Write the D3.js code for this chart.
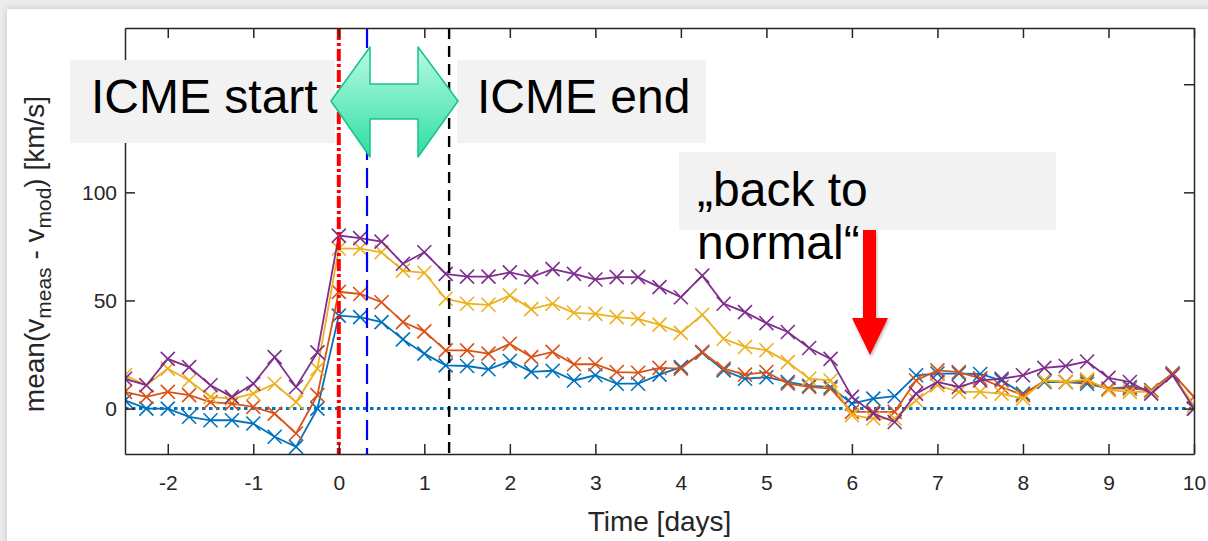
<!DOCTYPE html>
<html>
<head>
<meta charset="utf-8">
<script src="https://cdn.jsdelivr.net/npm/d3@7"></script>
<style>
    body { margin: 0; background: #ececec; }
    svg { display: block; font-family: "Liberation Sans", Arial, sans-serif; }
</style>
</head>
<body>
<svg id="chart" width="1208" height="541"></svg>
<script>
// time grid (days since ICME start), 6 h steps
var times = [-2.5, -2.25, -2, -1.75, -1.5, -1.25, -1, -0.75, -0.5, -0.25,
    0, 0.25, 0.5, 0.75, 1, 1.25, 1.5, 1.75, 2, 2.25,
    2.5, 2.75, 3, 3.25, 3.5, 3.75, 4, 4.25, 4.5, 4.75,
    5, 5.25, 5.5, 5.75, 6, 6.25, 6.5, 6.75, 7, 7.25,
    7.5, 7.75, 8, 8.25, 8.5, 8.75, 9, 9.25, 9.5, 9.75, 10];

var blue_vals = [3.8, 0, 0, -3.8, -5.4, -5.4, -6.9, -13, -17.7, 0,
    43, 42.3, 40, 32, 25.4, 20, 19.7, 18.2, 22, 17,
    17.5, 13, 15.4, 11.5, 11.5, 15.7, 19.2, 25.8, 17.7, 13.8,
    14.5, 12.3, 10.5, 10, 2.3, 4.6, 5.7, 15.4, 16.2, 16.2,
    16, 13, 6.9, 12.3, 12.3, 11.5, 9.2, 10, 8.5, 16.2, 0];

var orange_vals = [7.7, 5.4, 7.7, 6.2, 3, 2.3, 0.8, -2.3, -11.5, 6.2,
    54, 53, 49.2, 40, 35.7, 26.9, 26.9, 25.4, 30, 23.8,
    26.2, 20.5, 20.5, 16.9, 16.6, 18.8, 18.5, 26.2, 18.5, 15.7,
    16.9, 11.5, 10, 9.2, -1.5, -1.5, -1.5, 13, 17.7, 16.9,
    14, 10, 6.2, 13, 12.3, 12.6, 9.2, 9.2, 8.5, 16.2, 5.4];

var yellow_vals = [15.4, 10.8, 18.5, 13, 5.4, 4.6, 6.9, 11.5, 3, 18.5,
    74, 74, 72.3, 63.8, 62.8, 50.8, 48.5, 48, 52.3, 46,
    48.5, 44.3, 43.8, 42.3, 41.5, 38.8, 35, 43.4, 32.3, 28.5,
    27, 21.5, 13.8, 13, -3, -4.6, -4.6, 3.8, 10.8, 7.7,
    7.7, 6.9, 4.6, 13, 12.3, 13.5, 8.5, 7.7, 7.7, 15.4, 1.5];

var purple_vals = [13.8, 10.8, 23, 19.2, 10.8, 5.4, 11.5, 23.8, 10, 26,
    80, 78.8, 77.2, 67, 72.3, 62.3, 61, 61, 63, 60.8,
    64.5, 62.3, 59.7, 60.8, 60.8, 56.2, 51.5, 61.5, 48.5, 44.6,
    39.5, 35.4, 28, 23, 5.4, -2.3, -6.2, 6.9, 12.3, 10,
    13, 13.8, 15.4, 18.8, 19.7, 21.8, 14.2, 12.3, 6.9, 15.4, 0];

var series_colors = ['#0072BD', '#D95319', '#EDB120', '#7E2F8E'];

var x_ticks = [-2, -1, 0, 1, 2, 3, 4, 5, 6, 7, 8, 9, 10];
var y_ticks = [0, 50, 100, 150];

// event markers: ICME start, mid, ICME end
var event_times = [0, 0.33, 1.29];
var event_colors = ['#ff0000', '#0000ff', '#000000'];

var svg = d3.select('#chart');
// NB: "top" is taken by window.top, so prefixed names
var p_left = 125, p_right = 1194, p_top = 28, p_bottom = 454;

var x = d3.scaleLinear().domain([-2.5, 10]).range([p_left, p_right]);
var y = d3.scaleLinear().domain([-21, 176]).range([p_bottom, p_top]);

var defs = svg.append('defs');

var shadow = defs.append('filter').attr('id', 'panelshadow')
    .attr('x', '-5%').attr('y', '-5%').attr('width', '110%').attr('height', '110%');
shadow.append('feDropShadow').attr('dx', 0).attr('dy', 0)
    .attr('stdDeviation', 3).attr('flood-color', '#000').attr('flood-opacity', 0.18);

var arrowshadow = defs.append('filter').attr('id', 'arrowshadow');
arrowshadow.append('feDropShadow').attr('dx', 1).attr('dy', 2)
    .attr('stdDeviation', 1.5).attr('flood-color', '#000').attr('flood-opacity', 0.3);

var grad = defs.append('linearGradient').attr('id', 'mint')
    .attr('x1', 0).attr('y1', 0).attr('x2', 0).attr('y2', 1);
grad.append('stop').attr('offset', '0%').attr('stop-color', '#b8fae4');
grad.append('stop').attr('offset', '100%').attr('stop-color', '#2fdea4');

defs.append('clipPath').attr('id', 'plotclip')
    .append('rect').attr('x', p_left).attr('y', p_top)
    .attr('width', p_right - p_left).attr('height', p_bottom - p_top);

// slide background
svg.append('rect').attr('width', 1208).attr('height', 541).attr('fill', '#ececec');
svg.append('rect').attr('x', 7).attr('y', 9).attr('width', 1210).attr('height', 540)
    .attr('fill', '#fff').attr('filter', 'url(#panelshadow)');

var plot = svg.append('g').attr('clip-path', 'url(#plotclip)');

// zero reference line
plot.append('line')
    .attr('x1', x(-2.5)).attr('x2', x(10))
    .attr('y1', y(0)).attr('y2', y(0))
    .attr('stroke', '#0072BD').attr('stroke-width', 3)
    .attr('stroke-dasharray', '3.5,3.5');

var line = d3.line()
    .x(function(d) { return x(d[0]); })
    .y(function(d) { return y(d[1]); });

var all_series = [blue_vals, orange_vals, yellow_vals, purple_vals];
var ms = 7;

all_series.forEach(function(vals, i) {
    var pts = times.map(function(t, j) { return [t, vals[j]]; });
    var g = plot.append('g');
    g.append('path').datum(pts)
        .attr('d', line)
        .attr('fill', 'none')
        .attr('stroke', series_colors[i])
        .attr('stroke-width', 1.8);
    g.selectAll('path.mk').data(pts).enter().append('path')
        .attr('class', 'mk')
        .attr('d', function(d) {
            var cx = x(d[0]), cy = y(d[1]);
            return 'M' + (cx - ms) + ',' + (cy - ms) + 'L' + (cx + ms) + ',' + (cy + ms) +
                'M' + (cx - ms) + ',' + (cy + ms) + 'L' + (cx + ms) + ',' + (cy - ms);
        })
        .attr('stroke', series_colors[i])
        .attr('stroke-width', 1.6);
});

// vertical event lines
var dashes = ['12,3,3,3', '20,8', '11,7'];
var widths = [4, 2.2, 2.4];
event_times.forEach(function(t, i) {
    plot.append('line')
        .attr('x1', x(t)).attr('x2', x(t))
        .attr('y1', p_top).attr('y2', p_bottom)
        .attr('stroke', event_colors[i])
        .attr('stroke-width', widths[i])
        .attr('stroke-dasharray', dashes[i]);
});

// axes, matlab style box with inward ticks
var axcol = '#262626';
function style_axis(g) {
    g.attr('font-family', null);
    g.selectAll('path.domain').attr('stroke', axcol).attr('stroke-width', 1.5);
    g.selectAll('.tick line').attr('stroke', axcol).attr('stroke-width', 1.5);
    g.selectAll('.tick text').attr('fill', axcol).attr('font-size', 21);
}
var plain = function(d) { return String(d); };
// the 150 label sits under the "ICME start" box anyway
var ylabel_fmt = function(d) { return d === 150 ? '' : String(d); };

svg.append('g').attr('transform', 'translate(0,' + p_bottom + ')')
    .call(d3.axisBottom(x).tickValues(x_ticks).tickSize(-10).tickSizeOuter(0).tickPadding(21)
        .tickFormat(plain))
    .call(style_axis);
svg.append('g').attr('transform', 'translate(0,' + p_top + ')')
    .call(d3.axisTop(x).tickValues(x_ticks).tickSize(-10).tickSizeOuter(0).tickFormat(''))
    .call(style_axis);
svg.append('g').attr('transform', 'translate(' + p_left + ',0)')
    .call(d3.axisLeft(y).tickValues(y_ticks).tickSize(-10).tickSizeOuter(0).tickPadding(8)
        .tickFormat(ylabel_fmt))
    .call(style_axis);
svg.append('g').attr('transform', 'translate(' + p_right + ',0)')
    .call(d3.axisRight(y).tickValues(y_ticks).tickSize(-10).tickSizeOuter(0).tickFormat(''))
    .call(style_axis);

svg.append('text')
    .attr('x', (p_left + p_right) / 2).attr('y', 531)
    .attr('text-anchor', 'middle')
    .attr('font-size', 28).attr('fill', axcol)
    .text('Time [days]');

var ylab = svg.append('text')
    .attr('transform', 'translate(44,254) rotate(-90)')
    .attr('text-anchor', 'middle')
    .attr('font-size', 28).attr('fill', axcol);
ylab.append('tspan').text('mean(v');
ylab.append('tspan').attr('font-size', 21).attr('dy', 7).text('meas');
ylab.append('tspan').attr('dy', -7).text(' - v');
ylab.append('tspan').attr('font-size', 21).attr('dy', 7).text('mod');
ylab.append('tspan').attr('dy', -7).text(') [km/s]');

// annotation boxes
var boxes = [
    { x: 70, y: 60, w: 265, h: 83 },
    { x: 457, y: 60, w: 249, h: 83 },
    { x: 679, y: 152, w: 377, h: 78 },
];
svg.selectAll('rect.box').data(boxes).enter().append('rect')
    .attr('class', 'box')
    .attr('x', function(d) { return d.x; })
    .attr('y', function(d) { return d.y; })
    .attr('width', function(d) { return d.w; })
    .attr('height', function(d) { return d.h; })
    .attr('fill', '#f2f2f2');

var labels = [
    { x: 91, y: 113, t: 'ICME start' },
    { x: 477, y: 113, t: 'ICME end' },
    { x: 697, y: 206, t: '\u201Eback to' },
    { x: 697, y: 259, t: 'normal\u201C' },
];
svg.selectAll('text.ann').data(labels).enter().append('text')
    .attr('class', 'ann')
    .attr('x', function(d) { return d.x; })
    .attr('y', function(d) { return d.y; })
    .attr('font-size', 48)
    .attr('fill', '#000')
    .text(function(d) { return d.t; });

// green double arrow between start and end
var ga = [[331, 101], [370, 47], [370, 84], [418, 84], [418, 47], [458, 101],
    [418, 157], [418, 119], [370, 119], [370, 157]];
svg.append('path')
    .attr('d', 'M' + ga.join('L') + 'Z')
    .attr('fill', 'url(#mint)')
    .attr('stroke', '#17c28a')
    .attr('stroke-width', 1.5)
    .attr('stroke-linejoin', 'round');

// red arrow
var ra = [[863, 230], [876, 230], [876, 318], [888, 318], [870, 355], [852, 318], [863, 318]];
svg.append('path')
    .attr('d', 'M' + ra.join('L') + 'Z')
    .attr('fill', '#ff0000')
    .attr('filter', 'url(#arrowshadow)');
</script>
</body>
</html>
